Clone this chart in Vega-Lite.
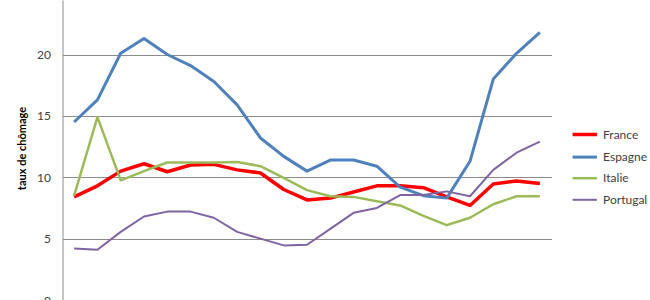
{
  "$schema": "https://vega.github.io/schema/vega-lite/v6.json",
  "width": 489,
  "height": 300,
  "autosize": {"type": "none"},
  "padding": {"left": 62.5, "top": 0, "right": 98.5, "bottom": 0},
  "background": "white",
  "config": {"view": {"stroke": null}, "font": "Lato"},
  "data": {"values": [
    {"annee":1991,"pays":"France","taux":8.4},{"annee":1992,"pays":"France","taux":9.3},{"annee":1993,"pays":"France","taux":10.5},{"annee":1994,"pays":"France","taux":11.1},{"annee":1995,"pays":"France","taux":10.45},{"annee":1996,"pays":"France","taux":11.0},{"annee":1997,"pays":"France","taux":11.05},{"annee":1998,"pays":"France","taux":10.6},{"annee":1999,"pays":"France","taux":10.35},{"annee":2000,"pays":"France","taux":9.0},{"annee":2001,"pays":"France","taux":8.15},{"annee":2002,"pays":"France","taux":8.3},{"annee":2003,"pays":"France","taux":8.8},{"annee":2004,"pays":"France","taux":9.3},{"annee":2005,"pays":"France","taux":9.3},{"annee":2006,"pays":"France","taux":9.15},{"annee":2007,"pays":"France","taux":8.4},{"annee":2008,"pays":"France","taux":7.7},{"annee":2009,"pays":"France","taux":9.45},{"annee":2010,"pays":"France","taux":9.7},{"annee":2011,"pays":"France","taux":9.5},
    {"annee":1991,"pays":"Espagne","taux":14.5},{"annee":1992,"pays":"Espagne","taux":16.3},{"annee":1993,"pays":"Espagne","taux":20.1},{"annee":1994,"pays":"Espagne","taux":21.3},{"annee":1995,"pays":"Espagne","taux":20.0},{"annee":1996,"pays":"Espagne","taux":19.1},{"annee":1997,"pays":"Espagne","taux":17.8},{"annee":1998,"pays":"Espagne","taux":15.9},{"annee":1999,"pays":"Espagne","taux":13.2},{"annee":2000,"pays":"Espagne","taux":11.7},{"annee":2001,"pays":"Espagne","taux":10.5},{"annee":2002,"pays":"Espagne","taux":11.4},{"annee":2003,"pays":"Espagne","taux":11.4},{"annee":2004,"pays":"Espagne","taux":10.9},{"annee":2005,"pays":"Espagne","taux":9.2},{"annee":2006,"pays":"Espagne","taux":8.5},{"annee":2007,"pays":"Espagne","taux":8.3},{"annee":2008,"pays":"Espagne","taux":11.3},{"annee":2009,"pays":"Espagne","taux":18.0},{"annee":2010,"pays":"Espagne","taux":20.1},{"annee":2011,"pays":"Espagne","taux":21.8},
    {"annee":1991,"pays":"Italie","taux":8.5},{"annee":1992,"pays":"Italie","taux":14.9},{"annee":1993,"pays":"Italie","taux":9.75},{"annee":1994,"pays":"Italie","taux":10.5},{"annee":1995,"pays":"Italie","taux":11.2},{"annee":1996,"pays":"Italie","taux":11.2},{"annee":1997,"pays":"Italie","taux":11.2},{"annee":1998,"pays":"Italie","taux":11.25},{"annee":1999,"pays":"Italie","taux":10.9},{"annee":2000,"pays":"Italie","taux":9.95},{"annee":2001,"pays":"Italie","taux":8.95},{"annee":2002,"pays":"Italie","taux":8.45},{"annee":2003,"pays":"Italie","taux":8.4},{"annee":2004,"pays":"Italie","taux":8.05},{"annee":2005,"pays":"Italie","taux":7.7},{"annee":2006,"pays":"Italie","taux":6.85},{"annee":2007,"pays":"Italie","taux":6.1},{"annee":2008,"pays":"Italie","taux":6.7},{"annee":2009,"pays":"Italie","taux":7.8},{"annee":2010,"pays":"Italie","taux":8.45},{"annee":2011,"pays":"Italie","taux":8.45},
    {"annee":1991,"pays":"Portugal","taux":4.2},{"annee":1992,"pays":"Portugal","taux":4.1},{"annee":1993,"pays":"Portugal","taux":5.55},{"annee":1994,"pays":"Portugal","taux":6.8},{"annee":1995,"pays":"Portugal","taux":7.2},{"annee":1996,"pays":"Portugal","taux":7.2},{"annee":1997,"pays":"Portugal","taux":6.7},{"annee":1998,"pays":"Portugal","taux":5.55},{"annee":1999,"pays":"Portugal","taux":5.0},{"annee":2000,"pays":"Portugal","taux":4.45},{"annee":2001,"pays":"Portugal","taux":4.5},{"annee":2002,"pays":"Portugal","taux":5.8},{"annee":2003,"pays":"Portugal","taux":7.1},{"annee":2004,"pays":"Portugal","taux":7.5},{"annee":2005,"pays":"Portugal","taux":8.55},{"annee":2006,"pays":"Portugal","taux":8.55},{"annee":2007,"pays":"Portugal","taux":8.85},{"annee":2008,"pays":"Portugal","taux":8.45},{"annee":2009,"pays":"Portugal","taux":10.6},{"annee":2010,"pays":"Portugal","taux":12.0},{"annee":2011,"pays":"Portugal","taux":12.9}
  ]},
  "mark": {"type": "line", "strokeJoin": "round", "clip": true},
  "encoding": {
    "x": {"field": "annee", "type": "quantitative", "scale": {"domain": [1990.5, 2011.5], "nice": false, "zero": false}, "axis": null},
    "y": {"field": "taux", "type": "quantitative", "scale": {"domain": [0, 24.44], "nice": false},
      "axis": {"title": "taux de chômage", "values": [0, 5, 10, 15, 20], "grid": true, "gridColor": "#8c8c8c", "gridWidth": 1, "ticks": false, "domainColor": "#8c8c8c", "domainWidth": 1, "labelPadding": 12, "labelColor": "#404040", "labelFontSize": 12, "labelFont": "Lato", "titleFontSize": 11, "titleFontWeight": "bold", "titleColor": "#000000", "titleFont": "Lato", "titleX": -40, "titleY": 148, "titleBaseline": "middle", "titleAlign": "center"}},
    "color": {"field": "pays", "type": "nominal", "sort": ["France", "Espagne", "Italie", "Portugal"],
      "scale": {"domain": ["France", "Espagne", "Italie", "Portugal"], "range": ["#FF0000", "#4F81BD", "#9BBB59", "#8064A2"]},
      "legend": {"title": null, "orient": "none", "legendX": 514.25, "legendY": 126.5, "padding": 0, "symbolType": "M-2,0H2", "symbolSize": 148, "symbolStrokeWidth": 2, "labelOffset": 10.35, "labelFontSize": 12, "labelColor": "#404040", "labelFont": "Lato", "rowPadding": 7.6}},
    "strokeWidth": {"field": "pays", "type": "nominal", "scale": {"domain": ["France", "Espagne", "Italie", "Portugal"], "range": [3.5, 2, 2, 2]}, "legend": null}
  }
}
